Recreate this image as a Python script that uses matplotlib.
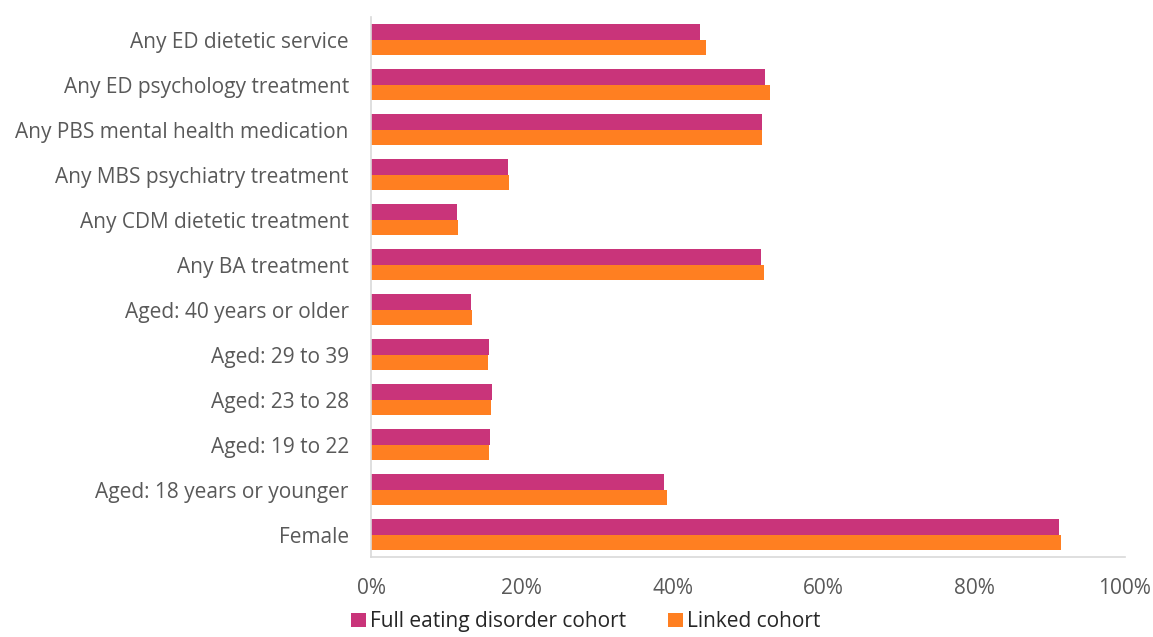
import matplotlib.pyplot as plt
import numpy as np

plt.rcParams['font.family'] = ['Open Sans', 'DejaVu Sans']

categories = [
    "Any ED dietetic service",
    "Any ED psychology treatment",
    "Any PBS mental health medication",
    "Any MBS psychiatry treatment",
    "Any CDM dietetic treatment",
    "Any BA treatment",
    "Aged: 40 years or older",
    "Aged: 29 to 39",
    "Aged: 23 to 28",
    "Aged: 19 to 22",
    "Aged: 18 years or younger",
    "Female",
]
full_cohort = [43.6, 52.2, 51.9, 18.2, 11.4, 51.7, 13.3, 15.7, 16.0, 15.8, 38.8, 91.3]
linked_cohort = [44.4, 52.9, 51.8, 18.3, 11.6, 52.1, 13.4, 15.5, 15.9, 15.6, 39.2, 91.5]
xticks = [0, 20, 40, 60, 80, 100]

pink = "#C9347A"
orange = "#FF7F21"
grey_text = "#595959"

fig = plt.figure(figsize=(11.53, 6.37), dpi=100)
ax = fig.add_axes([0.3218, 0.1256, 0.6539, 0.8474])

y = np.arange(len(categories))[::-1]
h = 0.35
ax.barh(y + h / 2, full_cohort, height=h, color=pink, label="Full eating disorder cohort")
ax.barh(y - h / 2, linked_cohort, height=h, color=orange, label="Linked cohort")

ax.set_xlim(0, 100)
ax.set_ylim(-0.5, len(categories) - 0.5)
ax.set_yticks(y)
ax.set_yticklabels(categories, fontsize=15, color=grey_text)
ax.set_xticks(xticks)
ax.set_xticklabels([f"{t}%" for t in xticks], fontsize=15, color=grey_text)
ax.tick_params(axis="y", length=0, pad=16)
ax.tick_params(axis="x", length=0, pad=15)

for s in ["top", "right"]:
    ax.spines[s].set_visible(False)
for s in ["left", "bottom"]:
    ax.spines[s].set_color("#D9D9D9")
    ax.spines[s].set_linewidth(1.2)

leg = fig.legend(loc="lower center", bbox_to_anchor=(0.508, -0.022), ncol=2, frameon=False,
                 fontsize=15, handlelength=0.7, handleheight=0.7, handletextpad=0.2,
                 columnspacing=2.0)
for t in leg.get_texts():
    t.set_color("#262626")

fig.savefig("out.png", dpi=100)
